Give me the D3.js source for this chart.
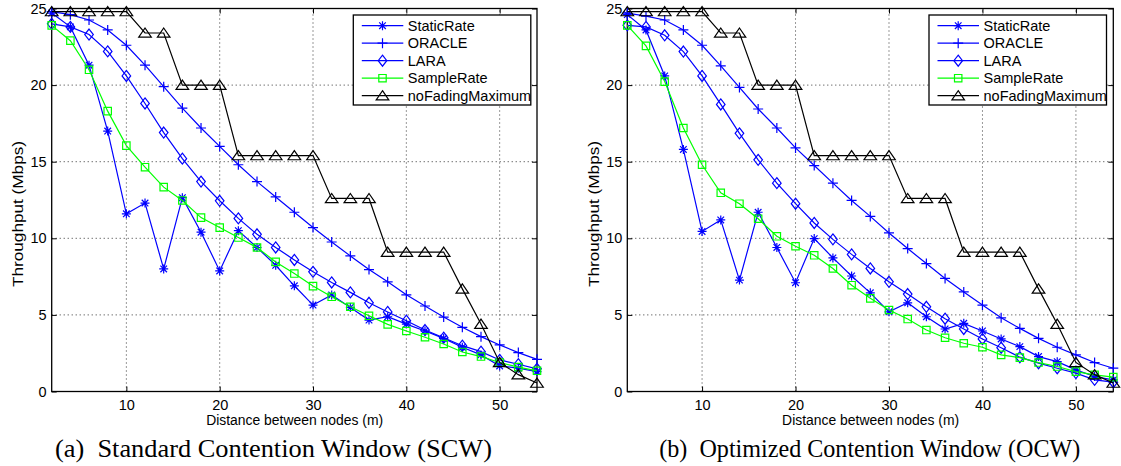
<!DOCTYPE html>
<html>
<head>
<meta charset="utf-8">
<script src="https://cdn.jsdelivr.net/npm/d3@7"></script>
<style>
  body { margin: 0; background: #fff; }
  svg { display: block; font-family: "Liberation Sans", Arial, Helvetica, sans-serif; }
  .grid line { stroke: #333; stroke-width: 1; stroke-dasharray: 1, 3; }
</style>
</head>
<body>
<div id="graf"></div>
<script>
// Datos
var distancias = [2, 4, 6, 8, 10, 12, 14, 16, 18, 20, 22, 24, 26, 28, 30, 32, 34, 36, 38, 40, 42, 44, 46, 48, 50, 52, 54];

var noFading = [24.8, 24.8, 24.8, 24.8, 24.8, 23.4, 23.4, 20, 20, 20, 15.4, 15.4, 15.4, 15.4, 15.4, 12.6, 12.6, 12.6, 9.1, 9.1, 9.1, 9.1, 6.7, 4.4, 1.9, 1.1, 0.55];

// (a) SCW
var scwStatic = [24.7, 23.8, 21.3, 17.0, 11.6, 12.3, 8.0, 12.65, 10.4, 7.87, 10.5, 9.4, 8.24, 6.9, 5.64, 6.3, 5.49, 4.66, 4.88, 4.4, 3.95, 3.47, 2.89, 2.39, 1.67, 1.52, 1.3];
var scwOracle = [24.8, 24.6, 24.25, 23.6, 22.6, 21.3, 19.9, 18.5, 17.2, 16.0, 14.8, 13.7, 12.7, 11.7, 10.7, 9.76, 8.85, 7.96, 7.16, 6.31, 5.58, 4.86, 4.19, 3.58, 3.04, 2.54, 2.1];
var scwLara = [24.0, 23.8, 23.3, 22.2, 20.6, 18.8, 16.9, 15.2, 13.7, 12.45, 11.3, 10.26, 9.4, 8.59, 7.81, 7.12, 6.47, 5.79, 5.19, 4.62, 4.01, 3.51, 2.99, 2.6, 2.06, 1.78, 1.48];
var scwSample = [23.9, 22.9, 21.0, 18.3, 16.05, 14.64, 13.34, 12.47, 11.35, 10.7, 10.05, 9.4, 8.46, 7.7, 6.88, 6.18, 5.53, 4.94, 4.38, 3.95, 3.54, 3.1, 2.58, 2.28, 1.89, 1.59, 1.35];

// (b) OCW
var ocwStatic = [24.6, 23.6, 20.6, 15.8, 10.45, 11.2, 7.27, 11.7, 9.4, 7.1, 9.98, 8.72, 7.54, 6.44, 5.2, 5.79, 4.88, 4.08, 4.45, 3.95, 3.43, 2.93, 2.28, 1.95, 1.41, 0.98, 0.76];
var ocwOracle = [24.7, 24.5, 24.25, 23.6, 22.6, 21.26, 19.85, 18.44, 17.2, 15.9, 14.75, 13.6, 12.47, 11.43, 10.35, 9.33, 8.35, 7.38, 6.5, 5.64, 4.81, 4.12, 3.47, 2.89, 2.39, 1.89, 1.52];
var ocwLara = [23.9, 23.8, 23.25, 22.19, 20.6, 18.74, 16.85, 15.12, 13.6, 12.26, 11.0, 9.93, 8.95, 8.03, 7.16, 6.36, 5.53, 4.75, 4.08, 3.43, 2.86, 2.24, 1.85, 1.52, 1.2, 0.76, 0.61];
var ocwSample = [23.9, 22.56, 20.23, 17.2, 14.8, 12.97, 12.26, 11.28, 10.13, 9.48, 8.89, 8.03, 6.94, 6.08, 5.32, 4.73, 4.01, 3.51, 3.15, 2.89, 2.39, 2.21, 1.89, 1.63, 1.3, 1.09, 0.94];

var nombres = ["StaticRate", "ORACLE", "LARA", "SampleRate", "noFadingMaximum"];
var xTicks = [10, 20, 30, 40, 50];
var yTicks = [0, 5, 10, 15, 20, 25];

// Marcadores estilo MATLAB
var marcadores = {
  asterisk: "M-4.5,0H4.5M0,-4.5V4.5M-3.3,-3.3L3.3,3.3M-3.3,3.3L3.3,-3.3",
  plus: "M-5,0H5M0,-5V5",
  diamond: "M0,-5.5L4.3,0L0,5.5L-4.3,0Z",
  square: "M-3.7,-3.7H3.7V3.7H-3.7Z",
  triangle: "M0,-5L6.3,4.2H-6.3Z",
};
var estilos = [
  { color: "#0000ff", marker: "asterisk" },
  { color: "#0000ff", marker: "plus" },
  { color: "#0000ff", marker: "diamond" },
  { color: "#00ff00", marker: "square" },
  { color: "#000000", marker: "triangle" },
];

var svg = d3
  .select("#graf")
  .append("svg")
  .attr("width", 1121)
  .attr("height", 466);

svg.append("rect").attr("width", 1121).attr("height", 466).attr("fill", "#fff");

function panel(p) {
  var x = d3.scaleLinear().domain([2, 54]).range([p.left, p.right]);
  var y = d3.scaleLinear().domain([0, 25]).range([391.5, 8.5]);
  var g = svg.append("g");

  // Rejilla punteada
  var grid = g.append("g").attr("class", "grid");
  grid
    .selectAll("line.v")
    .data(xTicks)
    .join("line")
    .attr("class", "v")
    .attr("x1", (d) => x(d))
    .attr("x2", (d) => x(d))
    .attr("y1", y(0))
    .attr("y2", y(25));
  grid
    .selectAll("line.h")
    .data(yTicks.filter((d) => d > 0 && d < 25))
    .join("line")
    .attr("class", "h")
    .attr("x1", x(2))
    .attr("x2", x(54))
    .attr("y1", (d) => y(d))
    .attr("y2", (d) => y(d));

  // Ejes
  var ejes = [
    g.append("g").attr("transform", `translate(0, ${y(0)})`)
      .call(d3.axisBottom(x).tickValues(xTicks).tickSize(-5).tickSizeOuter(0).tickPadding(8)),
    g.append("g").attr("transform", `translate(${x(2)}, 0)`)
      .call(d3.axisLeft(y).tickValues(yTicks).tickSize(-5).tickSizeOuter(0).tickPadding(5)),
    g.append("g").attr("transform", `translate(0, ${y(25)})`)
      .call(d3.axisTop(x).tickValues(xTicks).tickSize(-5).tickSizeOuter(0).tickFormat("")),
    g.append("g").attr("transform", `translate(${x(54)}, 0)`)
      .call(d3.axisRight(y).tickValues(yTicks).tickSize(-5).tickSizeOuter(0).tickFormat("")),
  ];
  ejes.forEach((e) => {
    e.attr("font-size", 14.5).attr("font-family", null);
    e.select(".domain").remove();
    e.selectAll("text").attr("fill", "#000");
  });

  g.append("rect")
    .attr("x", x(2))
    .attr("y", y(25))
    .attr("width", x(54) - x(2))
    .attr("height", y(0) - y(25))
    .attr("fill", "none")
    .attr("stroke", "#000")
    .attr("stroke-width", 1.3);

  // Lineas + marcadores
  var lineaGen = d3
    .line()
    .x((d, i) => x(distancias[i]))
    .y((d) => y(d));

  p.series.forEach((serie, k) => {
    var est = estilos[k];
    var s = g.append("g");
    s.append("path")
      .attr("d", lineaGen(serie))
      .attr("fill", "none")
      .attr("stroke", est.color)
      .attr("stroke-width", 1.2);
    s.selectAll("path.m")
      .data(serie)
      .join("path")
      .attr("class", "m")
      .attr("transform", (d, i) => `translate(${x(distancias[i])}, ${y(d)})`)
      .attr("d", marcadores[est.marker])
      .attr("fill", "none")
      .attr("stroke", est.color)
      .attr("stroke-width", 1.2);
  });

  // Leyenda
  var leg = g.append("g").attr("transform", `translate(${p.legX}, 15)`);
  leg.append("rect")
    .attr("width", 177.5)
    .attr("height", 90)
    .attr("fill", "#fff")
    .attr("stroke", "#000")
    .attr("stroke-width", 1.3);
  nombres.forEach((n, k) => {
    var est = estilos[k];
    var ly = 10.7 + k * 17.5;
    leg.append("line")
      .attr("x1", 8.5).attr("x2", 50)
      .attr("y1", ly).attr("y2", ly)
      .attr("stroke", est.color)
      .attr("stroke-width", 1.2);
    leg.append("path")
      .attr("transform", `translate(29.2, ${ly})`)
      .attr("d", marcadores[est.marker])
      .attr("fill", "none")
      .attr("stroke", est.color)
      .attr("stroke-width", 1.2);
    leg.append("text")
      .attr("x", 54.5)
      .attr("y", ly)
      .attr("dy", "0.35em")
      .attr("font-size", 14.5)
      .text(n);
  });

  // Titulos de ejes
  g.append("text")
    .attr("transform", `translate(${p.yLabX}, 214) rotate(-90)`)
    .attr("text-anchor", "middle")
    .attr("font-size", 15)
    .attr("textLength", 146)
    .attr("lengthAdjust", "spacingAndGlyphs")
    .text("Throughput (Mbps)");

  g.append("text")
    .attr("x", (x(2) + x(54)) / 2 + 0.3)
    .attr("y", 425)
    .attr("text-anchor", "middle")
    .attr("font-size", 14)
    .attr("textLength", 177)
    .attr("lengthAdjust", "spacingAndGlyphs")
    .text("Distance between nodes (m)");

  g.append("text")
    .attr("x", p.capX)
    .attr("y", 457)
    .attr("font-family", "'Liberation Serif', 'Times New Roman', serif")
    .attr("font-size", 25)
    .attr("textLength", p.capW)
    .attr("lengthAdjust", "spacingAndGlyphs")
    .text(p.caption);
}

panel({
  left: 51.7,
  right: 537,
  series: [scwStatic, scwOracle, scwLara, scwSample, noFading],
  legX: 353.3,
  yLabX: 23,
  capX: 55,
  capW: 437,
  caption: "(a)\u00a0\u00a0Standard Contention Window (SCW)",
});

panel({
  left: 627.3,
  right: 1113.3,
  series: [ocwStatic, ocwOracle, ocwLara, ocwSample, noFading],
  legX: 929,
  yLabX: 599,
  capX: 659.3,
  capW: 421,
  caption: "(b)\u00a0\u00a0Optimized Contention Window (OCW)",
});
</script>
</body>
</html>
